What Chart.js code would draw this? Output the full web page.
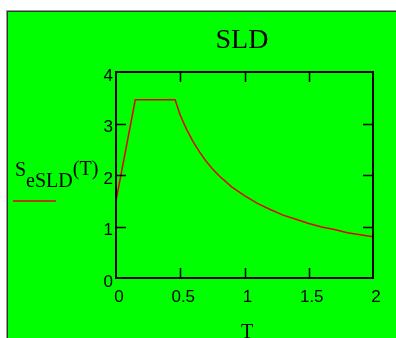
<!DOCTYPE html>
<html><head><meta charset="utf-8">
<script src="https://cdn.jsdelivr.net/npm/chart.js@4.4.0/dist/chart.umd.min.js"></script>
<style>html,body{margin:0;padding:0;background:#fff;}canvas{display:block;}</style>
</head><body>
<div style="width:396px;height:338px;position:relative"><canvas id="c" width="396" height="338"></canvas></div>
<script>
const titleText = "SLD";
const xTitle = "T";
const xTicks = [0, 0.5, 1, 1.5, 2];
const yTicks = [0, 1, 2, 3, 4];
const T = [0, 0.15, 0.46, 0.5, 0.55, 0.6, 0.65, 0.7, 0.75, 0.8, 0.9, 1.0, 1.1, 1.2, 1.3, 1.4, 1.5, 1.6, 1.7, 1.8, 1.9, 2.0];
const SeSLD = [1.5, 3.46, 3.46, 3.16, 2.88, 2.65, 2.45, 2.27, 2.12, 1.99, 1.77, 1.6, 1.45, 1.33, 1.22, 1.14, 1.06, 0.99, 0.94, 0.88, 0.84, 0.8];

const pts = T.map((t, i) => ({x: t, y: SeSLD[i]}));

const deco = {
  id: 'deco',
  beforeDraw(chart) {
    const ctx = chart.ctx;
    ctx.save();
    ctx.fillStyle = '#ffffff';
    ctx.fillRect(0, 0, chart.width, chart.height);
    ctx.fillStyle = '#00ff00';
    ctx.fillRect(6, 10, chart.width, chart.height);
    ctx.fillStyle = '#999999';
    ctx.fillRect(6, 10, chart.width, 1);
    ctx.fillRect(6, 10, 1, chart.height);
    ctx.fillStyle = '#333333';
    ctx.fillRect(7, 11, chart.width, 1);
    ctx.fillRect(7, 11, 1, chart.height);
    ctx.restore();
  },
  afterDraw(chart) {
    const ctx = chart.ctx;
    const a = chart.chartArea;
    const xs = chart.scales.x, ys = chart.scales.y;
    ctx.save();
    ctx.strokeStyle = '#000';
    ctx.lineWidth = 2;
    ctx.strokeRect(a.left, a.top, a.right - a.left, a.bottom - a.top);
    ctx.lineWidth = 1.5;
    ctx.beginPath();
    xTicks.forEach(v => {
      const px = Math.round(xs.getPixelForValue(v)) + 0.5;
      if (v > xs.min && v < xs.max) {
        ctx.moveTo(px, a.bottom); ctx.lineTo(px, a.bottom - 10);
        ctx.moveTo(px, a.top); ctx.lineTo(px, a.top + 10);
      }
    });
    yTicks.forEach(v => {
      const py = Math.round(ys.getPixelForValue(v)) + 0.5;
      if (v > ys.min && v < ys.max) {
        ctx.moveTo(a.left, py); ctx.lineTo(a.left + 10, py);
        ctx.moveTo(a.right, py); ctx.lineTo(a.right - 10, py);
      }
    });
    ctx.stroke();
    // title
    ctx.fillStyle = '#000';
    ctx.textAlign = 'center';
    ctx.textBaseline = 'alphabetic';
    ctx.font = '28px "Liberation Serif"';
    ctx.fillText(titleText, 242, 48);
    // x title
    ctx.font = '20px "Liberation Serif"';
    ctx.fillText(xTitle, 247, 338);
    // y title with subscript
    ctx.textAlign = 'left';
    ctx.font = '20px "Liberation Serif"';
    ctx.fillText('S', 15, 176);
    let w = ctx.measureText('S').width;
    ctx.fillText('eSLD', 15 + w, 187);
    let w2 = ctx.measureText('eSLD').width;
    ctx.fillText('(T)', 15 + w + w2, 175);
    // legend line
    ctx.strokeStyle = '#e00000';
    ctx.lineWidth = 1.5;
    ctx.beginPath();
    ctx.moveTo(13, 201); ctx.lineTo(56, 201);
    ctx.stroke();
    ctx.restore();
  }
};

new Chart(document.getElementById('c'), {
  type: 'scatter',
  data: {
    datasets: [{
      data: pts,
      showLine: true,
      borderColor: '#e80000',
      borderWidth: 1.5,
      pointRadius: 0,
      tension: 0,
      fill: false
    }]
  },
  options: {
    responsive: false,
    animation: false,
    events: [],
    layout: {padding: {left: 0, right: 23, top: 72, bottom: 0}},
    plugins: {legend: {display: false}, tooltip: {enabled: false}, title: {display: false}},
    scales: {
      x: {
        type: 'linear', min: 0, max: 2,
        afterFit: s => { s.height = 60; },
        afterBuildTicks: s => { s.ticks = xTicks.map(v => ({value: v})); },
        grid: {display: false, drawTicks: false},
        border: {display: false},
        ticks: {color: '#000', font: {family: 'Liberation Sans', size: 17}, padding: 9, labelOffset: 3, maxRotation: 0, autoSkip: false,
          callback: v => String(v)}
      },
      y: {
        type: 'linear', min: 0, max: 4,
        afterFit: s => { s.width = 116; },
        afterBuildTicks: s => { s.ticks = yTicks.map(v => ({value: v})); },
        grid: {display: false, drawTicks: false},
        border: {display: false},
        ticks: {color: '#000', font: {family: 'Liberation Sans', size: 17}, padding: 3, labelOffset: 4, autoSkip: false,
          callback: v => String(v)}
      }
    }
  },
  plugins: [deco]
});
</script>
</body></html>
